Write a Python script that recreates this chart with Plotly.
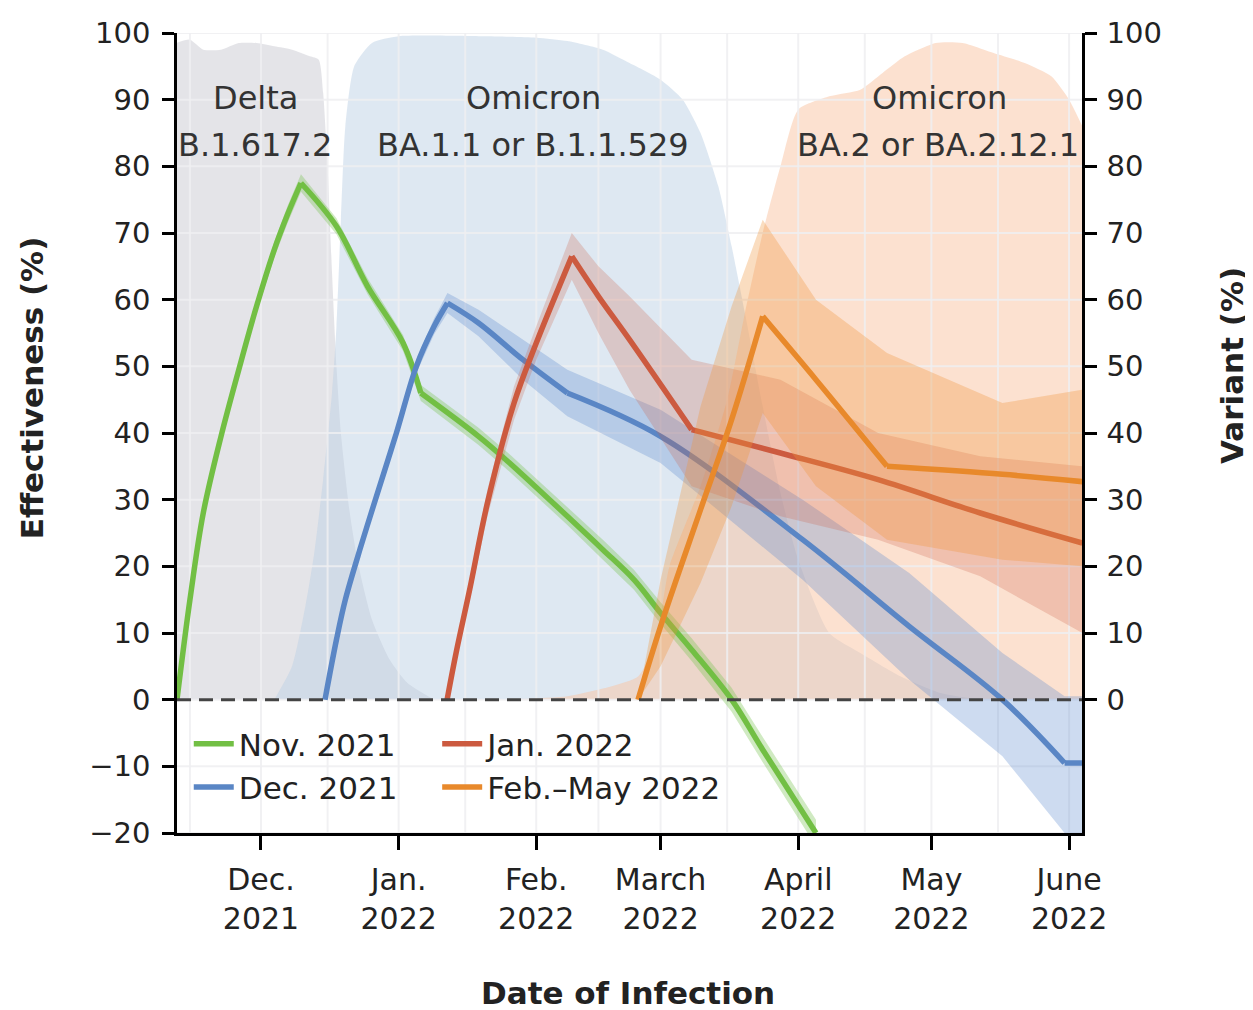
import plotly.graph_objects as go

# ---------------- data ----------------
# Variant shares (%)
delta_dates = ["2021-11-12", "2021-11-15", "2021-11-18", "2021-11-22", "2021-11-26", "2021-11-30",
               "2021-12-04", "2021-12-08", "2021-12-12", "2021-12-14", "2021-12-15", "2021-12-16",
               "2021-12-17", "2021-12-18", "2021-12-19", "2021-12-21", "2021-12-23", "2021-12-26",
               "2021-12-30", "2022-01-03", "2022-01-09"]
delta_vals = [98.5, 99, 97.5, 97.5, 98.5, 98.5, 98, 97.5, 96.5, 96, 91, 80, 64, 50, 40, 28, 20, 12, 6, 2.5, 0]

ba1_dates = ["2021-12-04", "2021-12-08", "2021-12-11", "2021-12-13", "2021-12-15", "2021-12-17",
             "2021-12-18", "2021-12-19", "2021-12-20", "2021-12-22", "2021-12-26", "2022-01-01",
             "2022-01-20", "2022-02-01", "2022-02-08", "2022-02-16", "2022-02-22", "2022-03-01",
             "2022-03-06", "2022-03-10", "2022-03-14", "2022-03-17", "2022-03-20", "2022-03-24",
             "2022-03-28", "2022-04-01", "2022-04-08", "2022-04-15", "2022-04-24", "2022-05-03",
             "2022-05-12"]
ba1_vals = [0, 5, 14, 22, 33, 46, 56, 72, 86, 95, 98.5, 99.5, 99.5, 99.3, 98.8, 97.5, 95.5, 93,
            90, 85, 77, 68, 58, 44, 31, 21, 10, 7, 3.5, 1, 0]

ba2_dates = ["2022-01-25", "2022-02-08", "2022-02-18", "2022-02-24", "2022-02-28", "2022-03-03",
             "2022-03-10", "2022-03-16", "2022-03-20", "2022-03-24", "2022-03-28", "2022-04-01",
             "2022-04-08", "2022-04-15", "2022-04-20", "2022-04-25", "2022-05-02", "2022-05-08",
             "2022-05-15", "2022-05-22", "2022-05-28", "2022-06-01", "2022-06-04"]
ba2_vals = [0, 0.5, 2, 3.5, 9, 20, 32, 45, 58, 70, 80, 88.5, 90.5, 91.5, 94, 96.5, 98.5, 98.5,
            97, 95.5, 93.5, 90, 86]

# Vaccine effectiveness (%) by vaccination period
nov_dates = ["2021-11-12 02:00", "2021-11-15", "2021-11-18", "2021-11-22", "2021-11-26", "2021-11-30",
             "2021-12-04", "2021-12-07", "2021-12-10", "2021-12-18", "2021-12-25", "2022-01-02",
             "2022-01-06", "2022-01-19", "2022-01-26", "2022-02-08", "2022-02-16", "2022-02-23",
             "2022-03-01", "2022-03-08", "2022-03-17", "2022-03-24", "2022-04-05"]
nov_vals = [0, 15, 28, 39.5, 49.5, 59, 67.5, 72.8, 77.5, 71, 62, 53.5, 46, 39.5, 35.5, 27.5, 22.5,
            18, 13, 7.5, 0, -7.5, -20]
nov_lo = [0, 14.5, 27.2, 38.5, 48.5, 58, 66.3, 71.5, 76.2, 69.8, 60.8, 52.3, 44.8, 38.2, 34.2, 26.2, 21,
          16.5, 11.4, 5.8, -1.8, -9.4, -22]
nov_hi = [0, 15.5, 28.8, 40.5, 50.5, 60, 68.7, 74.1, 78.8, 72.2, 63.2, 54.7, 47.2, 40.8, 36.8, 28.8, 24,
          19.5, 14.6, 9.2, 1.8, -5.6, -18]
nov_corners = [8, 12]          # indices of the sharp peak / bend

dec_dates = ["2021-12-15 10:00", "2021-12-18", "2021-12-20", "2021-12-23 12:00", "2021-12-27",
             "2021-12-31 12:00", "2022-01-05", "2022-01-09", "2022-01-12", "2022-01-19", "2022-01-29",
             "2022-02-08", "2022-03-01", "2022-04-02", "2022-04-26", "2022-05-17", "2022-05-31",
             "2022-06-04"]
dec_vals = [0, 9, 15, 23, 30.5, 40, 50, 56, 59.5, 56.5, 51, 46, 39.5, 24, 11, 0, -9.5, -9.5]
dec_lo = [0, 8.3, 14.2, 22.2, 29.6, 39, 49, 54.8, 58, 54.5, 48, 42.5, 35.5, 18, 3, -8.5, -20, -21]
dec_hi = [0, 9.7, 15.8, 23.8, 31.4, 41, 51, 57.2, 61, 58.5, 54, 49.5, 43.5, 30, 19, 7, 0.5, 0.5]
dec_corners = [8, 11, 16]

jan_dates = ["2022-01-11 22:00", "2022-01-14", "2022-01-17", "2022-01-21", "2022-01-27", "2022-02-01",
             "2022-02-09", "2022-02-15", "2022-02-22", "2022-03-08", "2022-03-28", "2022-04-19",
             "2022-05-12", "2022-06-04"]
jan_vals = [0, 7.2, 16.5, 29.5, 44.5, 53.5, 66.5, 60.5, 54, 40.5, 37, 33, 28, 23.5]
jan_lo = [0, 6.4, 15, 27.5, 42, 51, 63, 55, 46.5, 32, 27.5, 24, 18.5, 10]
jan_hi = [0.5, 8, 18, 31.5, 47, 56, 70, 65, 60.5, 51, 48, 40, 36.5, 35]
jan_corners = [6, 9]

feb_dates = ["2022-02-23 22:00", "2022-03-01", "2022-03-10", "2022-03-17", "2022-03-24", "2022-04-05",
             "2022-04-21", "2022-05-17", "2022-06-04"]
feb_vals = [0, 11, 28.5, 42, 57.5, 48, 35, 33.8, 32.7]
feb_lo = [0, 5, 17.5, 29, 43, 32, 24, 21, 20]
feb_hi = [0, 18, 44, 59, 72, 60, 52, 44.5, 46.5]
feb_corners = [4, 6]

tick_dates = ["2021-12-01", "2022-01-01", "2022-02-01", "2022-03-01", "2022-04-01", "2022-05-01", "2022-06-01"]
tick_text = ["Dec.<br>2021", "Jan.<br>2022", "Feb.<br>2022", "March<br>2022", "April<br>2022",
             "May<br>2022", "June<br>2022"]
grid_dates = ["2021-11-15", "2021-12-01", "2021-12-16", "2022-01-01", "2022-01-16", "2022-02-01",
              "2022-02-15", "2022-03-01", "2022-03-16", "2022-04-01", "2022-04-16", "2022-05-01",
              "2022-05-16", "2022-06-01"]
grid_vals = list(range(-20, 101, 10))
eff_ticks = list(range(-20, 101, 10))
var_ticks = list(range(0, 101, 10))

X_RANGE = ["2021-11-12 02:00", "2022-06-03 22:00"]
Y_RANGE = [-20, 100]
FONT = "DejaVu Sans"

fig = go.Figure()

# variant share areas
area_specs = [
    (delta_dates, delta_vals, "rgba(201,201,209,0.5)"),
    (ba1_dates, ba1_vals, "rgba(189,209,229,0.5)"),
    (ba2_dates, ba2_vals, "rgba(249,195,161,0.5)"),
]
for d, v, c in area_specs:
    fig.add_trace(go.Scatter(x=d, y=v, mode="lines", line=dict(width=0, color=c, shape="spline", smoothing=0.6),
                             fill="tozeroy", fillcolor=c, showlegend=False, hoverinfo="skip"))

# grid lines (drawn above the variant areas)
gx, gy = [], []
for d in grid_dates:
    gx += [d, d, None]
    gy += [Y_RANGE[0], Y_RANGE[1], None]
for v in grid_vals:
    gx += [X_RANGE[0], X_RANGE[1], None]
    gy += [v, v, None]
fig.add_trace(go.Scatter(x=gx, y=gy, mode="lines", line=dict(color="rgba(238,238,241,0.85)", width=2),
                         showlegend=False, hoverinfo="skip"))

# effectiveness lines with CI bands
series = [
    ("Nov. 2021", nov_dates, nov_vals, nov_lo, nov_hi, nov_corners, "#72bf44", "rgba(120,195,80,0.35)", "legend", 1),
    ("Dec. 2021", dec_dates, dec_vals, dec_lo, dec_hi, dec_corners, "#5a86c5", "rgba(90,135,205,0.30)", "legend", 2),
    ("Jan. 2022", jan_dates, jan_vals, jan_lo, jan_hi, jan_corners, "#cc5a3f", "rgba(205,95,70,0.25)", "legend2", 1),
    ("Feb.–May 2022", feb_dates, feb_vals, feb_lo, feb_hi, feb_corners, "#e8892b", "rgba(240,150,60,0.32)", "legend2", 2),
]
for name, d, v, lo, hi, corners, col, band, leg, rank in series:
    fig.add_trace(go.Scatter(x=d, y=lo, mode="lines", line=dict(width=0, color=band),
                             showlegend=False, hoverinfo="skip"))
    fig.add_trace(go.Scatter(x=d, y=hi, mode="lines", line=dict(width=0, color=band),
                             fill="tonexty", fillcolor=band, showlegend=False, hoverinfo="skip"))
    cuts = [0] + corners + [len(d) - 1]
    for k in range(len(cuts) - 1):
        a, b = cuts[k], cuts[k + 1] + 1
        fig.add_trace(go.Scatter(x=d[a:b], y=v[a:b], mode="lines", name=name,
                                 line=dict(color=col, width=5.5, shape="spline", smoothing=1.0),
                                 legend=leg, legendrank=rank, legendgroup=name,
                                 showlegend=(k == 0), hoverinfo="skip"))

# invisible trace to anchor right axis
fig.add_trace(go.Scatter(x=[X_RANGE[0]], y=[0], yaxis="y2", mode="markers",
                         marker=dict(opacity=0), showlegend=False, hoverinfo="skip"))

fig.add_shape(type="line", xref="paper", x0=0, x1=1, yref="y", y0=0, y1=0,
              line=dict(color="#444444", width=3, dash="14px,8px"), layer="above")

axis_font = dict(family=FONT, size=29, color="#222222")
leg_font = dict(family=FONT, size=31, color="#222222")
fig.update_layout(
    width=1245, height=1002,
    margin=dict(l=169, r=171, t=25, b=177),
    paper_bgcolor="white", plot_bgcolor="white",
    font=dict(family=FONT, color="#222222"),
    xaxis=dict(type="date", range=X_RANGE, tickmode="array", tickvals=tick_dates, ticktext=tick_text,
               showgrid=False, zeroline=False, showline=True, linecolor="black", linewidth=2.5,
               ticks="outside", ticklen=14, tickwidth=2.5, tickcolor="black", ticklabelstandoff=4,
               tickfont=dict(family=FONT, size=30, color="#222222"), automargin=False),
    yaxis=dict(range=Y_RANGE, tickmode="array", tickvals=eff_ticks, showgrid=False, zeroline=False,
               showline=True, linecolor="black", linewidth=2.5, ticks="outside", ticklen=12,
               tickwidth=2.5, tickcolor="black", tickfont=axis_font, ticklabelstandoff=6,
               automargin=False),
    yaxis2=dict(range=Y_RANGE, overlaying="y", side="right", tickmode="array", tickvals=var_ticks,
                showgrid=False, zeroline=False, showline=True, linecolor="black", linewidth=2.5,
                ticks="outside", ticklen=12, tickwidth=2.5, tickcolor="black", tickfont=axis_font,
                ticklabelstandoff=4, automargin=False),
    legend=dict(x=0.013, y=0.145, xanchor="left", yanchor="top", bgcolor="rgba(0,0,0,0)",
                font=leg_font, tracegroupgap=0, itemwidth=40, traceorder="normal"),
    legend2=dict(x=0.2875, y=0.145, xanchor="left", yanchor="top", bgcolor="rgba(0,0,0,0)",
                 font=leg_font, tracegroupgap=0, itemwidth=40, traceorder="normal"),
    hovermode=False,
)

ann_font = dict(family=FONT, size=32, color="#333333")
labels = [
    ("Delta", 0.0862, 0.91875), ("B.1.617.2", 0.0862, 0.86),
    ("Omicron", 0.3934, 0.91875), ("BA.1.1 or B.1.1.529", 0.3934, 0.86),
    ("Omicron", 0.843, 0.91875), ("BA.2 or BA.2.12.1", 0.8409, 0.86),
]
for t, x, y in labels:
    fig.add_annotation(text=t, x=x, y=y, xref="paper", yref="paper", showarrow=False,
                       xanchor="center", yanchor="middle", font=ann_font)

title_font = dict(family=FONT, size=31, color="#222222")
fig.add_annotation(text="<b>Effectiveness (%)</b>", x=-0.1602, y=0.556, xref="paper", yref="paper",
                   showarrow=False, textangle=-90, xanchor="center", yanchor="middle", font=title_font)
fig.add_annotation(text="<b>Variant (%)</b>", x=1.1657, y=0.585, xref="paper", yref="paper",
                   showarrow=False, textangle=-90, xanchor="center", yanchor="middle", font=title_font)
fig.add_annotation(text="<b>Date of Infection</b>", x=0.498, y=-0.2, xref="paper", yref="paper",
                   showarrow=False, xanchor="center", yanchor="middle", font=title_font)

fig.write_html("out.html")
